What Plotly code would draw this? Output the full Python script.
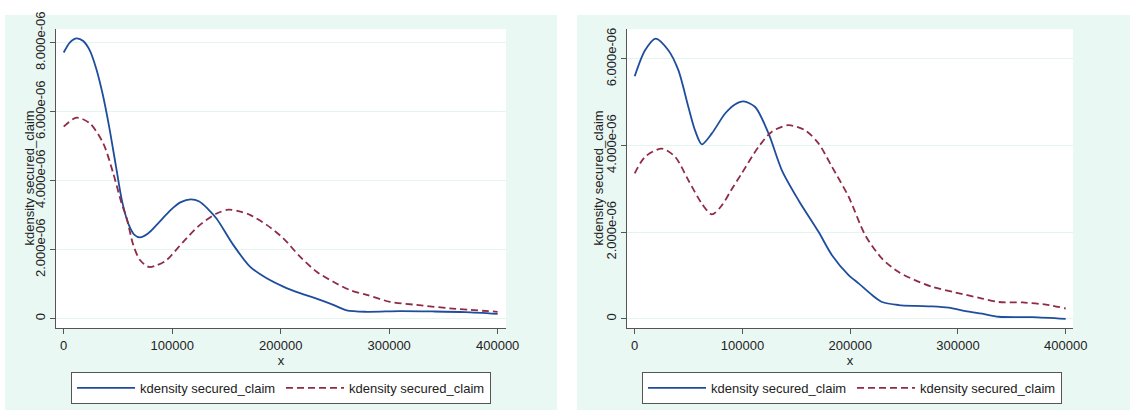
import numpy as np
import plotly.graph_objects as go

# Kernel density estimates of secured_claim (density values in units of 1e-6)
left_x_solid = [0, 6000, 12000, 18000, 24000, 30000, 36000, 42000, 48000, 54000, 60000,
                65000, 70300, 78000, 85700, 94000, 101000, 108000, 117000, 125000, 133000,
                141000, 156300, 171700, 187100, 202400, 217800, 233000, 248500, 260800,
                279300, 310000, 340000, 370000, 400000]
left_y_solid = [7.72, 8.02, 8.13, 8.05, 7.78, 7.25, 6.50, 5.55, 4.45, 3.38, 2.72,
                2.44, 2.36, 2.48, 2.72, 3.00, 3.22, 3.38, 3.46, 3.40, 3.18,
                2.90, 2.14, 1.51, 1.17, 0.93, 0.74, 0.58, 0.40, 0.24,
                0.20, 0.22, 0.21, 0.19, 0.14]

left_x_dash = [0, 12000, 24200, 36500, 45700, 53400, 58100, 64100, 70300, 78500, 86000,
               94900, 110200, 125600, 141000, 151700, 161000, 171700, 187100, 202400,
               217800, 233200, 248500, 263900, 279300, 300700, 325300, 356000, 400000]
left_y_dash = [5.57, 5.83, 5.66, 5.08, 4.21, 3.34, 2.91, 2.14, 1.70, 1.50, 1.55,
               1.70, 2.23, 2.72, 3.05, 3.16, 3.12, 3.01, 2.72, 2.33,
               1.80, 1.36, 1.07, 0.83, 0.69, 0.49, 0.40, 0.30, 0.20]

right_x_solid = [0, 9600, 19500, 31200, 40500, 49800, 56000, 62300, 71600, 83900, 93000,
                 101000, 111800, 124200, 136600, 152000, 170600, 183100, 198500, 207800,
                 220300, 229600, 245000, 260600, 276000, 291500, 307000, 322500, 337900,
                 369000, 400000]
right_y_solid = [5.60, 6.20, 6.47, 6.20, 5.74, 4.89, 4.35, 4.03, 4.28, 4.74, 4.95,
                 5.02, 4.89, 4.28, 3.43, 2.74, 2.01, 1.47, 1.01, 0.82,
                 0.55, 0.39, 0.32, 0.30, 0.29, 0.26, 0.18, 0.12, 0.05,
                 0.04, 0.00]

right_x_dash = [0, 9600, 25100, 37500, 49800, 62300, 71600, 80900, 89000, 99400, 114900,
                127300, 142800, 158300, 170600, 183100, 198500, 214000, 229600, 245000,
                260500, 276000, 297700, 322500, 337900, 360000, 384400, 400000]
right_y_dash = [3.36, 3.74, 3.93, 3.74, 3.20, 2.66, 2.41, 2.62, 2.95, 3.36, 3.97,
                4.32, 4.47, 4.35, 4.05, 3.51, 2.82, 1.93, 1.39, 1.08,
                0.89, 0.74, 0.61, 0.47, 0.39, 0.38, 0.32, 0.24]

x_ticks = [0, 100000, 200000, 300000, 400000]
x_tick_text = ["0", "100000", "200000", "300000", "400000"]
left_y_ticks = [0, 2e-6, 4e-6, 6e-6, 8e-6]
left_y_tick_text = ["0", "2.000e-06", "4.000e-06", "6.000e-06", "8.000e-06"]
right_y_ticks = [0, 2e-6, 4e-6, 6e-6]
right_y_tick_text = ["0", "2.000e-06", "4.000e-06", "6.000e-06"]

series_name = "kdensity secured_claim"
BLUE = "#1f4d9e"
MAROON = "#902b46"
MINT = "#eaf8f3"
GRID = "#e4f4ee"
AXIS = "#555555"
TEXT = "#222222"
FONT = "Liberation Sans, Arial, sans-serif"
FS = 13

W, H = 1130, 410


def px_x(p):
    return p / W


def px_y(p):
    return 1 - p / H


scale = 1e-6
fig = go.Figure()

panels = [
    ("x", "y", "legend", left_x_solid, left_y_solid, left_x_dash, left_y_dash),
    ("x2", "y2", "legend2", right_x_solid, right_y_solid, right_x_dash, right_y_dash),
]
for xa, ya, leg, xs, ys, xd, yd in panels:
    fig.add_trace(go.Scatter(
        x=xs, y=np.array(ys) * scale, mode="lines", name=series_name,
        line=dict(color=BLUE, width=1.8, shape="spline", smoothing=0.8),
        xaxis=xa, yaxis=ya, legend=leg, hoverinfo="skip"))
    fig.add_trace(go.Scatter(
        x=xd, y=np.array(yd) * scale, mode="lines", name=series_name,
        line=dict(color=MAROON, width=1.8, dash="7px,4px", shape="spline", smoothing=0.8),
        xaxis=xa, yaxis=ya, legend=leg, hoverinfo="skip"))

# Graph regions (mint) and plot regions (white)
shapes = [
    dict(type="rect", xref="paper", yref="paper", x0=px_x(5), x1=px_x(557),
         y0=0, y1=px_y(15), fillcolor=MINT, line_width=0, layer="below"),
    dict(type="rect", xref="paper", yref="paper", x0=px_x(577), x1=1,
         y0=0, y1=px_y(15), fillcolor=MINT, line_width=0, layer="below"),
    dict(type="rect", xref="paper", yref="paper", x0=px_x(56), x1=px_x(506),
         y0=px_y(328), y1=px_y(29), fillcolor="white", line_width=0, layer="below"),
    dict(type="rect", xref="paper", yref="paper", x0=px_x(627), x1=px_x(1073),
         y0=px_y(328), y1=px_y(29), fillcolor="white", line_width=0, layer="below"),
]

# Vertical y-axis titles
annotations = [
    dict(text=series_name, xref="paper", yref="paper", x=px_x(29), y=px_y(178.5),
         xanchor="center", yanchor="middle",
         textangle=-90, showarrow=False, font=dict(family=FONT, size=FS, color=TEXT)),
    dict(text=series_name, xref="paper", yref="paper", x=px_x(598), y=px_y(178.5),
         xanchor="center", yanchor="middle",
         textangle=-90, showarrow=False, font=dict(family=FONT, size=FS, color=TEXT)),
]

tick_font = dict(family=FONT, size=FS, color=TEXT)

xaxis_common = dict(
    tickmode="array", tickvals=x_ticks, ticktext=x_tick_text,
    showgrid=False, zeroline=False, showline=True, linecolor=AXIS, linewidth=1,
    ticks="outside", ticklen=5, tickcolor=AXIS, tickfont=tick_font,
    title=dict(text="x", font=tick_font, standoff=0), automargin=False,
)
yaxis_common = dict(
    showgrid=True, gridcolor=GRID, gridwidth=1.2, zeroline=False,
    showline=True, linecolor=AXIS, linewidth=1,
    ticks="outside", ticklen=5, tickcolor=AXIS, tickfont=tick_font, tickangle=-90,
    automargin=False,
)

legend_common = dict(
    xanchor="left", yanchor="top", orientation="h",
    bgcolor="white", bordercolor="#555555", borderwidth=1,
    font=dict(family=FONT, size=FS, color=TEXT),
    itemwidth=58, entrywidth=136, traceorder="normal",
)

fig.update_layout(
    width=W, height=H,
    margin=dict(l=0, r=0, t=0, b=0, autoexpand=False),
    paper_bgcolor="white", plot_bgcolor="rgba(0,0,0,0)",
    font=dict(family=FONT, size=FS, color=TEXT),
    shapes=shapes, annotations=annotations,
    xaxis=dict(xaxis_common, domain=[px_x(56), px_x(506)], range=[-7100, 407700], anchor="y"),
    yaxis=dict(yaxis_common, domain=[px_y(328), px_y(29)], range=[-0.27e-6, 8.4e-6],
               tickmode="array", tickvals=left_y_ticks, ticktext=left_y_tick_text, anchor="x"),
    xaxis2=dict(xaxis_common, domain=[px_x(627), px_x(1073)], range=[-7160, 406800], anchor="y2"),
    yaxis2=dict(yaxis_common, domain=[px_y(328), px_y(29)], range=[-0.21e-6, 6.69e-6],
                tickmode="array", tickvals=right_y_ticks, ticktext=right_y_tick_text, anchor="x2"),
    legend=dict(legend_common, x=px_x(71), y=px_y(372)),
    legend2=dict(legend_common, x=px_x(642), y=px_y(372)),
)

fig.write_html("out.html")
